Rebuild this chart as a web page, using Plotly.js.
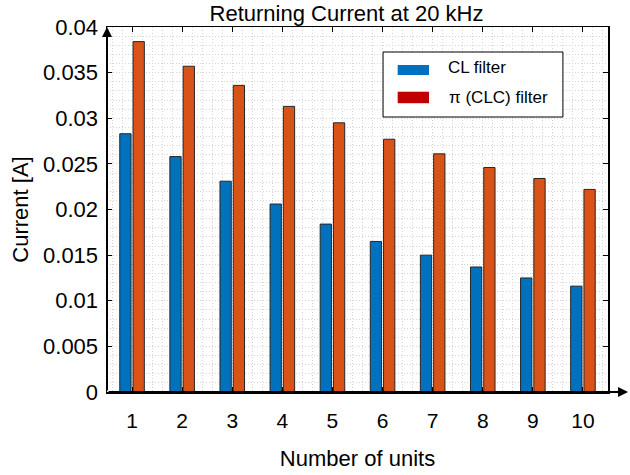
<!DOCTYPE html>
<html>
<head>
<meta charset="utf-8">
<script src="https://cdn.plot.ly/plotly-3.0.1.min.js"></script>
<style>html,body{margin:0;padding:0;background:#fff;}</style>
</head>
<body>
<div id="chart" style="width:630px;height:475px;"></div>
<script>
// ---- data ----
const units = [1, 2, 3, 4, 5, 6, 7, 8, 9, 10];
const clFilter = [0.0283, 0.0258, 0.0231, 0.0206, 0.0184, 0.0165, 0.0150, 0.0137, 0.0125, 0.0116];
const piFilter = [0.0384, 0.0357, 0.0336, 0.0313, 0.0295, 0.0277, 0.0261, 0.0246, 0.0234, 0.0222];
const seriesNames = ['CL filter', 'π (CLC) filter'];
const legendColors = ['#0070C0', '#C00000'];
const yTickVals = [0, 0.005, 0.01, 0.015, 0.02, 0.025, 0.03, 0.035, 0.04];
const yTickText = ['0', '0.005', '0.01', '0.015', '0.02', '0.025', '0.03', '0.035', '0.04'];
const chartTitle = 'Returning Current at 20 kHz';
const xTitle = 'Number of units';
const yTitle = 'Current [A]';

const FONT = 'Liberation Sans, Arial, sans-serif';
const gridCol = '#d4d4d4';
const gridDash = '1px,2px';

const traces = [
  {type: 'bar', x: units, y: clFilter, name: seriesNames[0], showlegend: false,
   marker: {color: '#0072BD', line: {color: '#262626', width: 1}}},
  {type: 'bar', x: units, y: piFilter, name: seriesNames[1], showlegend: false,
   marker: {color: '#D95319', line: {color: '#262626', width: 1}}}
];

// manual legend (MATLAB style: wide swatches)
const legRows = [0, 1];
const legShapes = [
  {type: 'rect', xref: 'paper', yref: 'paper', x0: 0.551, x1: 0.910, y0: 0.7534, y1: 0.9315,
   line: {color: '#000', width: 1}, fillcolor: '#ffffff', layer: 'above'}
].concat(legRows.map(i => ({
  type: 'rect', xref: 'paper', yref: 'paper', x0: 0.5802, x1: 0.6427,
  y0: [0.8685, 0.7912][i], y1: [0.8959, 0.8227][i],
  line: {width: 0}, fillcolor: legendColors[i], layer: 'above'})));
const legText = legRows.map(i => ({
  xref: 'paper', yref: 'paper', x: [0.6766, 0.6786][i], y: [0.889, 0.808][i],
  xanchor: 'left', yanchor: 'middle', text: seriesNames[i], showarrow: false,
  font: {family: FONT, size: 17, color: '#000'}}));

const layout = {
  width: 630, height: 475,
  margin: {l: 107, r: 22, t: 27, b: 83, pad: 0},
  paper_bgcolor: '#ffffff', plot_bgcolor: '#ffffff',
  font: {family: FONT, color: '#000000'},
  barmode: 'group', bargap: 0.47, bargroupgap: 0.15,
  showlegend: false,
  title: {text: chartTitle, font: {family: FONT, size: 22, color: '#000'},
          x: 0.55, xref: 'container', xanchor: 'center',
          y: 0.972, yref: 'container', yanchor: 'middle'},
  xaxis: {
    range: [0.5, 10.5], tickmode: 'linear', tick0: 1, dtick: 1,
    ticks: 'inside', ticklen: 5, tickcolor: '#000', tickwidth: 1,
    showline: true, linecolor: '#000', linewidth: 1.5, mirror: 'ticks',
    showgrid: true, gridcolor: gridCol, griddash: gridDash, gridwidth: 1,
    minor: {dtick: 0.2, tick0: 0, showgrid: true, gridcolor: gridCol, griddash: gridDash, gridwidth: 1, ticks: ''},
    zeroline: false, tickfont: {family: FONT, size: 21, color: '#000'},
    ticklabelstandoff: 9,
    title: {text: xTitle, font: {family: FONT, size: 22, color: '#000'}, standoff: 20}
  },
  yaxis: {
    range: [0, 0.04], tickmode: 'array', tickvals: yTickVals, ticktext: yTickText,
    ticks: 'inside', ticklen: 5, tickcolor: '#000', tickwidth: 1,
    showline: true, linecolor: '#000', linewidth: 1.5, mirror: 'ticks',
    showgrid: true, gridcolor: gridCol, griddash: gridDash, gridwidth: 1,
    minor: {dtick: 0.001, tick0: 0, showgrid: true, gridcolor: gridCol, griddash: gridDash, gridwidth: 1, ticks: ''},
    zeroline: false, tickfont: {family: FONT, size: 22, color: '#000'},
    ticklabelstandoff: 3,
    title: {text: yTitle, font: {family: FONT, size: 22, color: '#000'}, standoff: 8}
  },
  shapes: legShapes,
  annotations: [
    {xref: 'paper', yref: 'paper', x: 1.04, y: 0, ax: -521, ay: 0, axref: 'pixel', ayref: 'pixel',
     text: '', showarrow: true, arrowhead: 2, arrowsize: 1, arrowwidth: 2, arrowcolor: '#000', standoff: 0},
    {xref: 'paper', yref: 'paper', x: 0, y: 1.0, ax: 0, ay: 365, axref: 'pixel', ayref: 'pixel',
     text: '', showarrow: true, arrowhead: 2, arrowsize: 1, arrowwidth: 2, arrowcolor: '#000', standoff: 0}
  ].concat(legText)
};

Plotly.newPlot('chart', traces, layout, {displayModeBar: false, staticPlot: true});
</script>
</body>
</html>
